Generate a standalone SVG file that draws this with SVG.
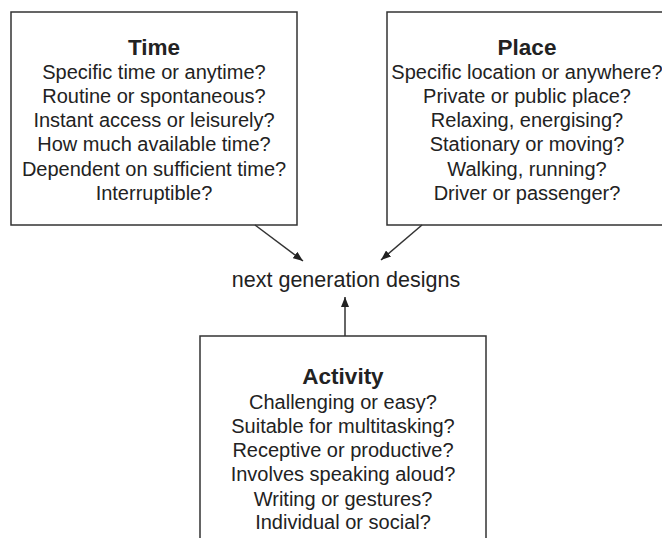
<svg xmlns="http://www.w3.org/2000/svg" width="662" height="538" viewBox="0 0 662 538">
<style>
.box{fill:#fff;stroke:#333;stroke-width:1.5}
.t{font-family:"Liberation Sans",Arial,sans-serif;font-size:20px;fill:#222;text-anchor:middle}
.h{font-weight:bold;font-size:22.5px}
.m{font-size:21.5px}
.c{stroke:#333;stroke-width:1.5;fill:none}
</style>
<defs>
<marker id="a" viewBox="0 0 10 8" refX="10" refY="4" markerWidth="10" markerHeight="8" markerUnits="userSpaceOnUse" orient="auto">
<path d="M0,0L10,4L0,8z" fill="#222"/>
</marker>
</defs>
<rect width="662" height="538" fill="#fff"/>
<g id="time">
<rect class="box" x="11" y="12" width="286" height="213"/>
<text class="t h" x="154" y="55">Time</text>
<text class="t" x="154" y="79">Specific time or anytime?</text>
<text class="t" x="154" y="103">Routine or spontaneous?</text>
<text class="t" x="154" y="127">Instant access or leisurely?</text>
<text class="t" x="154" y="151">How much available time?</text>
<text class="t" x="154" y="176">Dependent on sufficient time?</text>
<text class="t" x="154" y="200">Interruptible?</text>
</g>
<g id="place">
<rect class="box" x="387" y="12" width="290" height="213"/>
<text class="t h" x="527" y="55">Place</text>
<text class="t" x="527" y="79">Specific location or anywhere?</text>
<text class="t" x="527" y="103">Private or public place?</text>
<text class="t" x="527" y="127">Relaxing, energising?</text>
<text class="t" x="527" y="151">Stationary or moving?</text>
<text class="t" x="527" y="176">Walking, running?</text>
<text class="t" x="527" y="200">Driver or passenger?</text>
</g>
<g id="activity">
<rect class="box" x="200" y="336" width="286" height="220"/>
<text class="t h" x="343" y="384">Activity</text>
<text class="t" x="343" y="409">Challenging or easy?</text>
<text class="t" x="343" y="433">Suitable for multitasking?</text>
<text class="t" x="343" y="457">Receptive or productive?</text>
<text class="t" x="343" y="481">Involves speaking aloud?</text>
<text class="t" x="343" y="506">Writing or gestures?</text>
<text class="t" x="343" y="529">Individual or social?</text>
</g>
<g id="center">
<text class="t m" x="346" y="287">next generation designs</text>
</g>
<g id="connectors">
<line class="c" x1="255" y1="225" x2="303" y2="261" marker-end="url(#a)"/>
<line class="c" x1="422" y1="225" x2="381" y2="260" marker-end="url(#a)"/>
<line class="c" x1="345" y1="336" x2="345" y2="297" marker-end="url(#a)"/>
</g>
</svg>
